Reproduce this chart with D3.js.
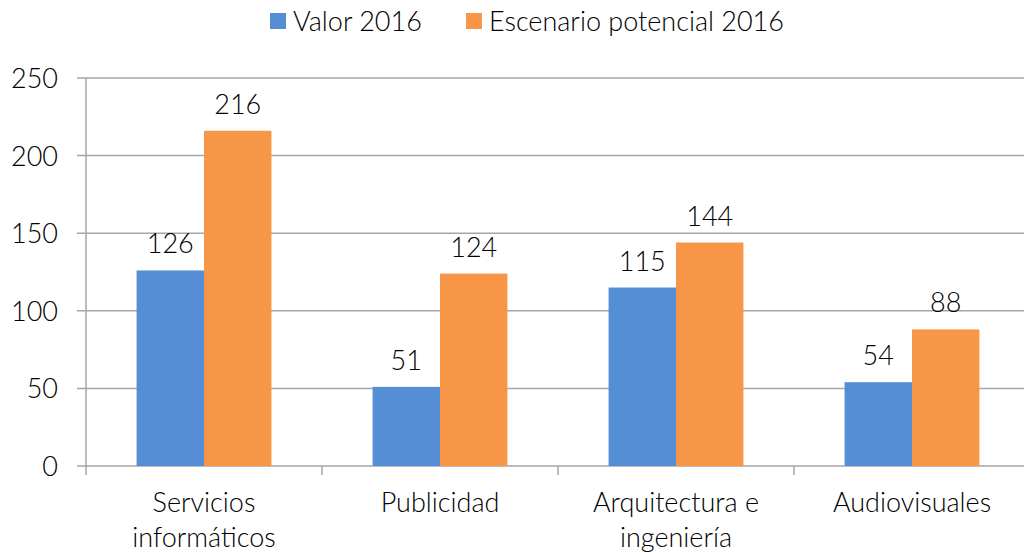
<!DOCTYPE html>
<html>
<head>
<meta charset="utf-8">
<script src="https://cdn.jsdelivr.net/npm/d3@7.9.0/dist/d3.min.js"></script>
<style>
  body { margin: 0; background: #fff; }
  svg text { font-family: Lato, "Open Sans", sans-serif; font-weight: 300; fill: #000; }
</style>
</head>
<body>
<svg id="chart" width="1024" height="552"></svg>
<script>
// data
const categories = [["Servicios", "informáticos"], ["Publicidad"], ["Arquitectura e", "ingeniería"], ["Audiovisuales"]];
const seriesNames = ["Valor 2016", "Escenario potencial 2016"];
const valor2016 = [126, 51, 115, 54];
const potencial2016 = [216, 124, 144, 88];
const yTicks = [0, 50, 100, 150, 200, 250];
const colors = ["#558ed5", "#f79646"];

const svg = d3.select('#chart');
const catKeys = categories.map(c => c.join(' '));
const fs = 27;

// scales
const x0 = d3.scaleBand().domain(catKeys).range([86, 1030]);
const bw = x0.bandwidth();
const barW = bw / 3.5; // gap width 150%
const x1 = d3.scaleBand().domain(seriesNames).range([barW * 0.75, bw - barW * 0.75]);
const y = d3.scaleLinear().domain([0, 250]).range([466, 78]);

// gridlines
svg.append('g')
  .selectAll('line')
  .data(yTicks)
  .join('line')
  .attr('x1', 77).attr('x2', 1024)
  .attr('y1', d => y(d)).attr('y2', d => y(d))
  .attr('stroke', '#a6a6a6').attr('stroke-width', 1.5);

// y labels
svg.append('g')
  .selectAll('text')
  .data(yTicks)
  .join('text')
  .attr('x', 58).attr('y', d => y(d) + 10)
  .attr('text-anchor', 'end')
  .attr('font-size', fs)
  .text(d => d);

// bars
const seriesData = [valor2016, potencial2016];
const groups = svg.append('g')
  .selectAll('g')
  .data(seriesNames)
  .join('g')
  .attr('fill', (d, i) => colors[i]);

groups.selectAll('rect')
  .data((s, i) => seriesData[i].map((v, j) => ({ s, v, cat: catKeys[j] })))
  .join('rect')
  .attr('x', d => x0(d.cat) + x1(d.s))
  .attr('y', d => y(d.v))
  .attr('width', x1.bandwidth())
  .attr('height', d => y(0) - y(d.v));

// value labels
groups.selectAll('text')
  .data((s, i) => seriesData[i].map((v, j) => ({ s, v, cat: catKeys[j] })))
  .join('text')
  .attr('x', d => x0(d.cat) + x1(d.s) + x1.bandwidth() / 2)
  .attr('y', d => y(d.v) - 17)
  .attr('text-anchor', 'middle')
  .attr('font-size', fs)
  .style('fill', '#000')
  .text(d => d.v);

// y axis line
svg.append('line')
  .attr('x1', 86).attr('x2', 86).attr('y1', y(250)).attr('y2', 475)
  .attr('stroke', '#a6a6a6').attr('stroke-width', 1.5);

// x axis ticks
svg.append('g')
  .selectAll('line')
  .data(catKeys.slice(1))
  .join('line')
  .attr('x1', d => x0(d)).attr('x2', d => x0(d))
  .attr('y1', 466).attr('y2', 475)
  .attr('stroke', '#a6a6a6').attr('stroke-width', 1.5);

// category labels
svg.append('g')
  .selectAll('text')
  .data(categories)
  .join('text')
  .attr('x', (d, i) => x0(catKeys[i]) + bw / 2)
  .attr('y', 512)
  .attr('text-anchor', 'middle')
  .attr('font-size', fs)
  .each(function (d) {
    d3.select(this).selectAll('tspan')
      .data(d)
      .join('tspan')
      .attr('x', d3.select(this).attr('x'))
      .attr('dy', (t, k) => k === 0 ? 0 : 35)
      .text(t => t);
  });

// legend
const legendX = [270, 466];
const legend = svg.append('g')
  .selectAll('g')
  .data(seriesNames)
  .join('g')
  .attr('transform', (d, i) => `translate(${legendX[i]},0)`);
legend.append('rect')
  .attr('x', 0).attr('y', 13).attr('width', 16).attr('height', 16)
  .attr('fill', (d, i) => colors[i]);
legend.append('text')
  .attr('x', 23).attr('y', 31)
  .attr('font-size', fs)
  .text(d => d);
</script>
</body>
</html>
